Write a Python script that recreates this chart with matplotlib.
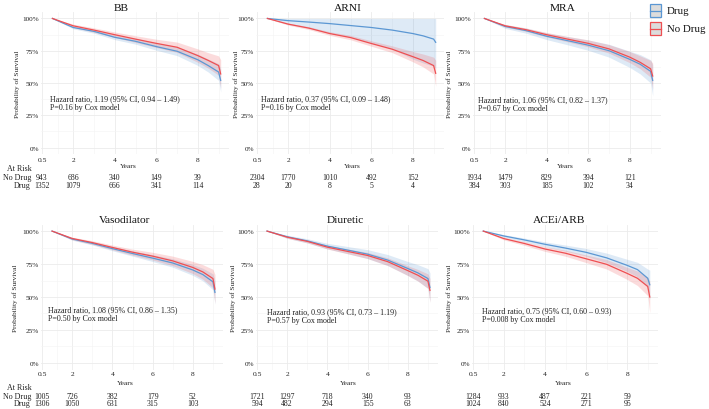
import matplotlib
matplotlib.use("Agg")
import matplotlib.pyplot as plt
from matplotlib.patches import Rectangle
from matplotlib.lines import Line2D
import matplotlib.transforms as mtrans

plt.rcParams['font.family'] = ['Liberation Serif', 'DejaVu Serif']

W, H = 709, 410

# ---------------- data ----------------
times = [1, 2, 3, 4, 5, 6, 7, 8, 8.5, 9, 9.1]
risk_times = [0.5, 2, 4, 6, 8]
x_ticks = [0.5, 2, 4, 6, 8]
x_tick_labels = ["0.5", "2", "4", "6", "8"]
y_ticks = [0, 25, 50, 75, 100]
y_tick_labels = ["0%", "25%", "50%", "75%", "100%"]

titles = ["BB", "ARNI", "MRA", "Vasodilator", "Diuretic", "ACEi/ARB"]
hr_texts = [
    "Hazard ratio, 1.19 (95% CI, 0.94 \u2013 1.49)\nP=0.16 by Cox model",
    "Hazard ratio, 0.37 (95% CI, 0.09 \u2013 1.48)\nP=0.16 by Cox model",
    "Hazard ratio, 1.06 (95% CI, 0.82 \u2013 1.37)\nP=0.67 by Cox model",
    "Hazard ratio, 1.08 (95% CI, 0.86 \u2013 1.35)\nP=0.50 by Cox model",
    "Hazard ratio, 0.93 (95% CI, 0.73 \u2013 1.19)\nP=0.57 by Cox model",
    "Hazard ratio, 0.75 (95% CI, 0.60 \u2013 0.93)\nP=0.008 by Cox model",
]

# BB
bb_nodrug = [100, 94.3, 91, 87.4, 84, 80.7, 77.7, 71.2, 67.5, 63.5, 57]
bb_nodrug_lo = [100, 93.0, 89.3, 85.3, 81.4, 77.5, 73.7, 66.0, 61.5, 56.0, 46]
bb_nodrug_hi = [100, 95.6, 92.7, 89.5, 86.6, 83.9, 81.7, 76.4, 73.5, 71.0, 68]
bb_drug = [100, 93, 90, 85.4, 82.3, 78.2, 74.6, 68, 63.5, 58.5, 52]
bb_drug_lo = [100, 92.0, 88.6, 83.6, 80.1, 75.4, 71.2, 63.6, 58.5, 52.0, 43]
bb_drug_hi = [100, 94.0, 91.4, 87.2, 84.5, 81.0, 78.0, 72.4, 68.5, 65.0, 61]
bb_risk_nodrug = [943, 686, 340, 149, 39]
bb_risk_drug = [1352, 1079, 666, 341, 114]

# ARNI
arni_nodrug = [100, 95.6, 92.5, 88.3, 85.2, 80.6, 76.2, 70.4, 67.4, 63.5, 57.5]
arni_nodrug_lo = [100, 94.8, 91.4, 86.9, 83.5, 78.5, 73.6, 66.4, 62.4, 57.0, 47.5]
arni_nodrug_hi = [100, 96.4, 93.6, 89.7, 86.9, 82.7, 78.8, 74.4, 72.4, 70.0, 67.5]
arni_drug = [100, 98.3, 97.2, 96, 94.5, 93, 91, 88.3, 86.5, 84, 81.5]
arni_drug_lo = [100, 95.5, 92.5, 88.5, 85.5, 81, 76.5, 68.5, 65.5, 63, 61]
arni_drug_hi = [100, 100, 100, 100, 100, 100, 100, 100, 100, 100, 100]
arni_risk_nodrug = [2304, 1770, 1010, 492, 152]
arni_risk_drug = [28, 20, 8, 5, 4]

# MRA
mra_nodrug = [100, 94.3, 91.3, 87.4, 84, 80.7, 76.4, 70, 66, 61, 55.4]
mra_nodrug_lo = [100, 93.3, 90.0, 85.7, 81.9, 78.0, 73.1, 65.7, 61.0, 54.5, 45.4]
mra_nodrug_hi = [100, 95.3, 92.6, 89.1, 86.1, 83.4, 79.7, 74.3, 71.0, 67.5, 65.4]
mra_drug = [100, 93.8, 90.6, 86.2, 82.8, 79.3, 75, 68.3, 64.5, 59, 52]
mra_drug_lo = [100, 92.3, 88.6, 83.6, 79.6, 75.3, 70.0, 62.0, 57.0, 50.0, 40]
mra_drug_hi = [100, 95.3, 92.6, 88.8, 86.0, 83.3, 80.0, 74.6, 72.0, 68.0, 64]
mra_risk_nodrug = [1934, 1479, 829, 394, 121]
mra_risk_drug = [384, 303, 185, 102, 34]

# Vasodilator
vaso_nodrug = [100, 94.4, 91.3, 87.6, 84, 81, 77.4, 72.4, 69, 64, 56]
vaso_nodrug_lo = [100, 93.4, 89.9, 85.8, 81.7, 78.1, 73.8, 67.8, 63.5, 57.0, 45]
vaso_nodrug_hi = [100, 95.4, 92.7, 89.4, 86.3, 83.9, 81.0, 77.0, 74.5, 71.0, 67]
vaso_drug = [100, 94, 90.7, 86.7, 83, 79.5, 75.8, 70.5, 67, 61.5, 53.5]
vaso_drug_lo = [100, 93.1, 89.5, 85.1, 81.0, 76.9, 72.6, 66.4, 62.2, 55.5, 44.5]
vaso_drug_hi = [100, 94.9, 91.9, 88.3, 85.0, 82.1, 79.0, 74.6, 71.8, 67.5, 62.5]
vaso_risk_nodrug = [1005, 726, 382, 179, 52]
vaso_risk_drug = [1306, 1050, 631, 315, 103]

# Diuretic
diur_nodrug = [100, 95.4, 92.2, 87.8, 84.6, 81.5, 76.8, 70, 66.5, 62, 55]
diur_nodrug_lo = [100, 94.6, 91.1, 86.4, 82.8, 79.2, 73.9, 66.3, 62.1, 56.5, 46]
diur_nodrug_hi = [100, 96.2, 93.3, 89.2, 86.4, 83.8, 79.7, 73.7, 70.9, 67.5, 64]
diur_drug = [100, 95.7, 92.6, 88.6, 85.6, 82.5, 78, 71.6, 68.3, 64, 57.2]
diur_drug_lo = [100, 94.5, 91.0, 86.5, 82.9, 79.1, 73.8, 66.3, 62.1, 56.5, 46.2]
diur_drug_hi = [100, 96.9, 94.2, 90.7, 88.3, 85.9, 82.2, 76.9, 74.5, 71.5, 68.2]
diur_risk_nodrug = [1721, 1297, 718, 340, 93]
diur_risk_drug = [594, 482, 294, 155, 63]

# ACEi/ARB
acei_nodrug = [100, 94.3, 90.6, 86.4, 83.2, 79, 74.8, 67.9, 64.2, 58, 50]
acei_nodrug_lo = [100, 93.3, 89.2, 84.6, 80.9, 76.1, 71.2, 63.3, 58.7, 51.0, 38]
acei_nodrug_hi = [100, 95.3, 92.0, 88.2, 85.5, 81.9, 78.4, 72.5, 69.7, 65.0, 62]
acei_drug = [100, 96.3, 93.3, 90, 87.1, 83.9, 79.7, 74, 70.8, 64.2, 59.3]
acei_drug_lo = [100, 95.3, 91.9, 88.2, 84.8, 81.0, 76.1, 69.4, 65.3, 57.2, 48.3]
acei_drug_hi = [100, 97.3, 94.7, 91.8, 89.4, 86.8, 83.3, 78.6, 76.3, 71.2, 70.3]
acei_risk_nodrug = [1284, 933, 487, 221, 59]
acei_risk_drug = [1024, 840, 524, 271, 95]

panels = [
    (bb_drug, bb_drug_lo, bb_drug_hi, bb_nodrug, bb_nodrug_lo, bb_nodrug_hi, bb_risk_nodrug, bb_risk_drug),
    (arni_drug, arni_drug_lo, arni_drug_hi, arni_nodrug, arni_nodrug_lo, arni_nodrug_hi, arni_risk_nodrug, arni_risk_drug),
    (mra_drug, mra_drug_lo, mra_drug_hi, mra_nodrug, mra_nodrug_lo, mra_nodrug_hi, mra_risk_nodrug, mra_risk_drug),
    (vaso_drug, vaso_drug_lo, vaso_drug_hi, vaso_nodrug, vaso_nodrug_lo, vaso_nodrug_hi, vaso_risk_nodrug, vaso_risk_drug),
    (diur_drug, diur_drug_lo, diur_drug_hi, diur_nodrug, diur_nodrug_lo, diur_nodrug_hi, diur_risk_nodrug, diur_risk_drug),
    (acei_drug, acei_drug_lo, acei_drug_hi, acei_nodrug, acei_nodrug_lo, acei_nodrug_hi, acei_risk_nodrug, acei_risk_drug),
]

# ---------------- styling / layout ----------------
BLUE = "#5B97D3"
RED = "#EE4F52"
GRID = "#ebebeb"
GRID_MINOR = "#f4f4f4"
TXT = "#222222"

fig = plt.figure(figsize=(W / 100, H / 100), dpi=100)


def fx(px):
    return px / W


def fy(py):
    return 1 - py / H


# axes boxes in pixels: (top, height) per row; left / width per panel
row_geom = [(13, 142), (225.5, 145)]
col_left = [[41, 256, 473], [41, 256, 472]]
col_width = [[188, 188, 188], [182, 182, 186]]

title_x = [[121, 348, 563], [125, 345, 559]]
title_y = [8.5, 220.5]
ylabel_x = [[17, 236, 449], [15, 233, 449]]
hr_pos = [(0.9, 35), (0.71, 34.8), (0.7, 34), (0.8, 37.6), (0.98, 36.2), (0.94, 36.8)]
tick_label_y = [161, 374.5]
years_y = [166.5, 383.5]
years_x = [[128, 352, 565], [125, 348, 563]]
atrisk_y = [169.5, 388.5]
nodrug_y = [177.7, 396.7]
drug_y = [186, 404.3]

for i, (title, hr, data) in enumerate(zip(titles, hr_texts, panels)):
    r, c = divmod(i, 3)
    top, hgt = row_geom[r]
    left, wid = col_left[r][c], col_width[r][c]
    ax = fig.add_axes([fx(left), fy(top + hgt), wid / W, hgt / H])
    d, dlo, dhi, nd, ndlo, ndhi, rnd, rd = data

    ax.fill_between(times, dlo, dhi, color=BLUE, alpha=0.2, lw=0)
    ax.fill_between(times, ndlo, ndhi, color=RED, alpha=0.2, lw=0)
    ax.plot(times, d, color=BLUE, lw=0.9)
    ax.plot(times, nd, color=RED, lw=0.9)

    ax.set_xlim(0.45, 9.5)
    ax.set_ylim(-5, 105)
    ax.set_xticks(x_ticks)
    ax.set_xticklabels([])
    ax.set_xticks([1.25, 3, 5, 7, 9], minor=True)
    ax.set_yticks(y_ticks)
    ax.set_yticklabels(y_tick_labels, fontsize=5.2, color=TXT)
    ax.set_yticks([12.5, 37.5, 62.5, 87.5], minor=True)
    ax.tick_params(axis='both', which='both', length=0, pad=1.5)
    ax.grid(True, which='major', color=GRID, lw=0.6)
    ax.grid(True, which='minor', color=GRID_MINOR, lw=0.4)
    ax.set_axisbelow(True)
    for s in ax.spines.values():
        s.set_visible(False)
    ax.patch.set_alpha(0)

    # x tick labels, placed in figure y
    trans = mtrans.blended_transform_factory(ax.transData, fig.transFigure)
    for xt, lab in zip(x_ticks, x_tick_labels):
        fig.text(xt, fy(tick_label_y[r]), lab, transform=trans, ha='center',
                 va='center', fontsize=5.4, color=TXT)
    fig.text(fx(years_x[r][c]), fy(years_y[r]), "Years", ha='center', va='center',
             fontsize=5.4, color=TXT)

    # title
    fig.text(fx(title_x[r][c]), fy(title_y[r]), title, ha='center', va='center',
             fontsize=8.2, color="#111111")
    # y label
    fig.text(fx(ylabel_x[r][c]), fy(top + hgt / 2), "Probability of Survival",
             rotation=90, ha='center', va='center', fontsize=5.2, color=TXT)
    # hazard ratio text
    hx, hy = hr_pos[i]
    ax.text(hx, hy, hr, ha='left', va='center', fontsize=5.8, color=TXT,
            linespacing=1.15)

    # numbers at risk
    for xt, a, b in zip(risk_times, rnd, rd):
        fig.text(xt, fy(nodrug_y[r]), str(a), transform=trans, ha='center',
                 va='center', fontsize=5.6, color=TXT)
        fig.text(xt, fy(drug_y[r]), str(b), transform=trans, ha='center',
                 va='center', fontsize=5.6, color=TXT)
    if c == 0:
        fig.text(fx(7), fy(atrisk_y[r]), "At Risk", ha='left', va='center',
                 fontsize=5.8, color=TXT)
        fig.text(fx(31), fy(nodrug_y[r]), "No Drug", ha='right', va='center',
                 fontsize=5.8, color=TXT)
        fig.text(fx(31), fy(drug_y[r]), "Drug", ha='right', va='center',
                 fontsize=5.8, color=TXT)

# ---------------- legend ----------------
legend_labels = ["Drug", "No Drug"]
legend_colors = [BLUE, RED]
legend_y = [11.5, 29.5]
for lab, col, ly in zip(legend_labels, legend_colors, legend_y):
    x0, x1 = 650, 661
    y0, y1 = ly - 6.5, ly + 6.5
    fig.patches.append(Rectangle((fx(x0), fy(y1)), (x1 - x0) / W, (y1 - y0) / H,
                                 transform=fig.transFigure, facecolor="#dcdcdc",
                                 edgecolor=col, lw=0.9))
    fig.lines.append(Line2D([fx(x0), fx(x1)], [fy(ly), fy(ly)],
                            transform=fig.transFigure, color=col, lw=0.9))
    fig.text(fx(667), fy(ly), lab, ha='left', va='center', fontsize=7.8,
             color="#111111")

fig.savefig("out.png", dpi=100)
